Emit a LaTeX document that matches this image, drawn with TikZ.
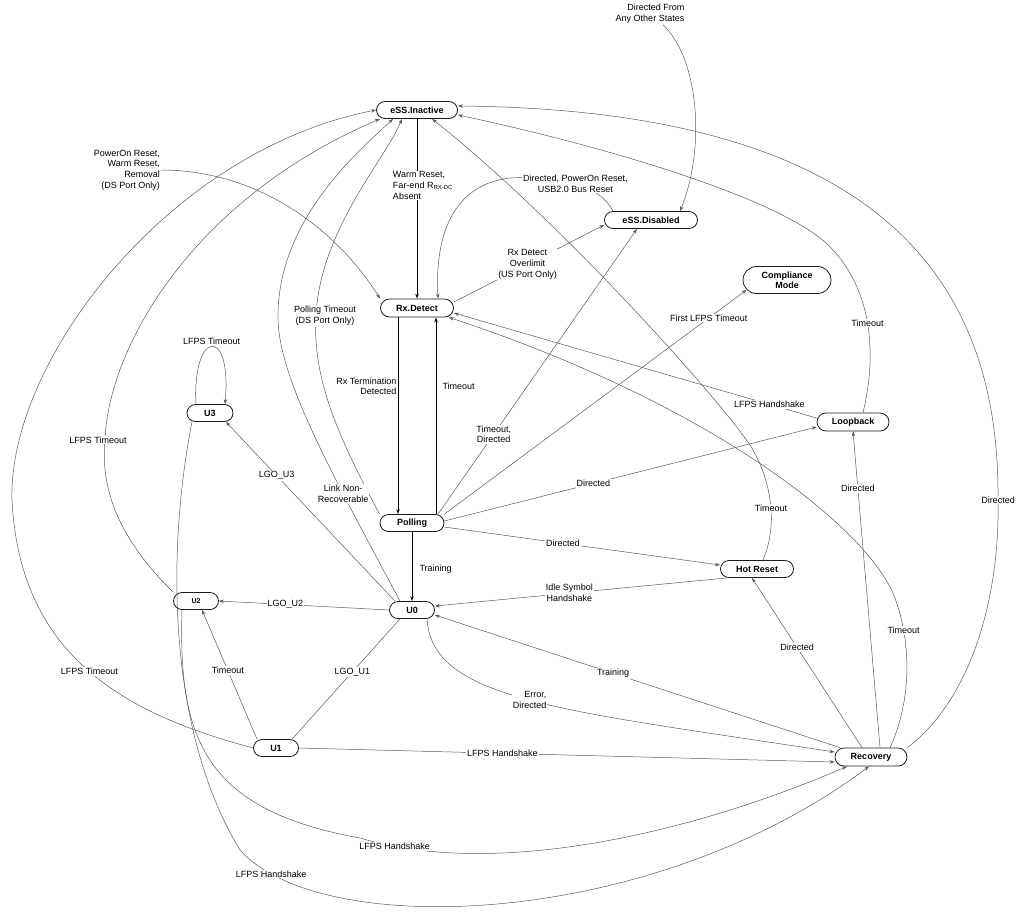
\documentclass[tikz,border=0pt]{standalone}
\usepackage{fontspec}
\setmainfont{Liberation Sans}
\usetikzlibrary{arrows.meta,calc,positioning}
\definecolor{lineGray}{HTML}{5A5A5A}
\definecolor{boxLine}{HTML}{1A1A1A}
\tikzset{
  stateBox/.style={draw=boxLine,line width=0.8pt,rounded corners=8.5pt,minimum height=17pt,
    inner sep=1pt,align=center,font=\fontsize{9}{10}\selectfont\bfseries},
  edgeLabel/.style={fill=white,inner sep=1pt,font=\fontsize{9}{10.7}\selectfont},
  trans/.style={draw=lineGray,line width=0.5pt,-{Stealth[length=5pt,width=3.5pt]}},
  mainTrans/.style={trans,draw=black,line width=1pt},
}

\begin{document}
\begin{tikzpicture}[x=1pt,y=-1pt]
  \useasboundingbox (0,0) rectangle (1020,914);

  % states
  \node[stateBox,minimum width=81pt] (inactive) at (417,110) {eSS.Inactive};
  \node[stateBox,minimum width=73pt,minimum height=18pt,rounded corners=9pt] (rxdetect) at (417,308) {Rx.Detect};
  \node[stateBox,minimum width=93pt] (disabled) at (651,220) {eSS.Disabled};
  \node[stateBox,minimum width=88pt,minimum height=27pt,rounded corners=13.5pt] (compliance) at (787,280) {Compliance\\Mode};
  \node[stateBox,minimum width=46pt] (u3) at (210,413) {U3};
  \node[stateBox,minimum width=45pt,font=\fontsize{7}{8}\selectfont\bfseries] (u2) at (196,601) {U2};
  \node[stateBox,minimum width=64pt] (polling) at (412,523) {Polling};
  \node[stateBox,minimum width=45pt] (u0) at (412,610) {U0};
  \node[stateBox,minimum width=45pt] (u1) at (276,748) {U1};
  \node[stateBox,minimum width=73pt] (hotreset) at (757,569) {Hot Reset};
  \node[stateBox,minimum width=72pt,minimum height=18pt,rounded corners=9pt] (loopback) at (853,422) {Loopback};
  \node[stateBox,minimum width=72pt,minimum height=18pt,rounded corners=9pt] (recovery) at (871,757) {Recovery};

  % free texts
  \node[edgeLabel,align=right] (anyOther) at (650,14) {Directed From\\Any Other States};
  \node[edgeLabel,align=right,anchor=east] (resetSrc) at (161,170) {PowerOn Reset,\\Warm Reset,\\Removal\\(DS Port Only)};

  % main column
  \draw[mainTrans] (inactive) -- (rxdetect)
    node[edgeLabel,pos=.37,xshift=6pt,align=left] (lWarm) {Warm Reset,\\Far-end R\textsubscript{RX-DC}\\Absent};
  \draw[mainTrans] ([xshift=-19pt]rxdetect.south) -- ([xshift=-14pt]polling.north)
    node[edgeLabel,pos=.35,left,align=right] (lRxTerm) {Rx Termination\\Detected};
  \draw[mainTrans] ([xshift=24pt]polling.north) -- ([xshift=19pt]rxdetect.south)
    node[edgeLabel,pos=.65,right=5pt] (lPollTo) {Timeout};
  \draw[mainTrans] (polling) -- (u0) node[edgeLabel,pos=.54,right=6pt] (lTrain) {Training};

  % from Polling
  \draw[trans] ([xshift=26pt]polling.north) -- ([xshift=-14pt]disabled.south)
    node[edgeLabel,pos=.28,align=center] (lPollDis) {Timeout,\\Directed};
  \draw[trans] (polling.north east) -- ([xshift=4pt,yshift=4pt]compliance.south west)
    node[edgeLabel,pos=.875] (lFirst) {First LFPS Timeout};
  \draw[trans] ([yshift=2pt]polling.east) -- ([yshift=-5pt]loopback.west)
    node[edgeLabel,pos=.4] (lPollLoop) {Directed};
  \draw[trans] ([yshift=-4pt]polling.east) -- ([yshift=4pt]hotreset.west)
    node[edgeLabel,pos=.43] (lPollHot) {Directed};
  \draw[trans] (polling.north west) .. controls (340,440) and (312,380) .. (316,316)
    node[edgeLabel,pos=1,xshift=9pt,align=center] (lPollTime) {Polling Timeout\\(DS Port Only)}
    .. controls (320,230) and (385,160) .. ([xshift=-15pt]inactive.south);

  % from U0
  \draw[trans] ([xshift=-17pt]u0.north) -- ([xshift=16pt]u3.south) node[edgeLabel,pos=.7] (lLgo3) {LGO\_U3};
  \draw[trans] (u0.west) -- (u2.east) node[edgeLabel,pos=.61] (lLgo2) {LGO\_U2};
  \draw[trans,-] ([xshift=-12pt]u0.south) -- ([xshift=16pt]u1.north) node[edgeLabel,pos=.44] (lLgo1) {LGO\_U1};
  \draw[trans] ([xshift=-12pt]u0.north) .. controls (330,470) and (280,380) .. (278,320)
    node[edgeLabel,pos=.3,align=center] (lLink) {Link Non-\\Recoverable}
    .. controls (276,220) and (360,150) .. ([xshift=-24pt]inactive.south);
  \draw[trans] ([xshift=15pt]u0.south) .. controls (432,700) and (560,710) .. ([yshift=5pt]recovery.west)
    node[edgeLabel,pos=.5,align=right] (lErr) {Error,\\Directed};

  % from Hot Reset
  \draw[trans] ([xshift=-30pt]hotreset.south) -- ([yshift=4pt]u0.east)
    node[edgeLabel,pos=.54,align=center] (lIdle) {Idle Symbol\\Handshake};
  \draw[trans] ([xshift=6pt]hotreset.north) .. controls (778,525) and (772,480) .. (750,445)
    node[edgeLabel,pos=.45] (lHotTo) {Timeout}
    .. controls (720,400) and (560,220) .. ([xshift=15pt]inactive.south);

  % from Loopback
  \draw[trans] ([yshift=4pt]loopback.west) -- ([yshift=-5pt]rxdetect.east)
    node[edgeLabel,pos=.13] (lLoopHs) {LFPS Handshake};
  \draw[trans] ([xshift=10pt]loopback.north) .. controls (878,350) and (870,290) .. (833,250)
    node[edgeLabel,pos=.5] (lLoopTo) {Timeout}
    .. controls (790,200) and (600,145) .. ([yshift=-5pt]inactive.east);

  % from Recovery
  \draw[trans] ([xshift=-31pt]recovery.north) -- ([yshift=-5pt]u0.east) node[edgeLabel,pos=.56] (lRecTrain) {Training};
  \draw[trans] ([xshift=-9pt]recovery.north) -- ([xshift=-5pt]hotreset.south) node[edgeLabel,pos=.59] (lRecHot) {Directed};
  \draw[trans] ([xshift=9pt]recovery.north) -- (loopback.south) node[edgeLabel,pos=.82] (lRecLoop) {Directed};
  \draw[trans] ([xshift=19pt]recovery.north) .. controls (912,700) and (912,640) .. (893,593)
    node[edgeLabel,pos=.75] (lRecTo) {Timeout}
    .. controls (860,520) and (700,400) .. ([xshift=-5pt]rxdetect.south east);
  \draw[trans] (recovery.north east) .. controls (970,700) and (1000,600) .. (998,500)
    node[edgeLabel,pos=1] (lRecDir) {Directed}
    .. controls (1000,280) and (880,110) .. ([yshift=4pt]inactive.east);

  % from U1
  \draw[trans] (u1.west) .. controls (130,715) and (20,660) .. (12,500)
    node[edgeLabel,pos=.5] (lU1To) {LFPS Timeout}
    .. controls (8,360) and (170,150) .. (inactive.west);
  \draw[trans] ([xshift=-19pt]u1.north) -- ([xshift=6pt]u2.south) node[edgeLabel,pos=.53] (lU1U2) {Timeout};
  \draw[trans] (u1.east) -- ([yshift=-5pt]recovery.west) node[edgeLabel,pos=.38] (lU1Rec) {LFPS Handshake};

  % from U2
  \draw[trans] (u2.north west) .. controls (120,540) and (100,490) .. (105,440)
    node[edgeLabel,pos=1,xshift=-7pt] (lU2To) {LFPS Timeout}
    .. controls (108,350) and (190,200) .. ([xshift=-37pt]inactive.south);
  \draw[trans] ([xshift=-14pt]u2.south) .. controls (178,740) and (205,810) .. (360,838)
    .. controls (500,880) and (700,830) .. ([xshift=-24pt]recovery.south)
    node[edgeLabel,pos=.08] (lU2Rec) {LFPS Handshake};

  % from U3
  \draw[trans] ([xshift=-14pt]u3.north) .. controls (192,330) and (232,325) .. ([xshift=15pt]u3.north)
    node[edgeLabel,pos=.5,above=1pt] (lU3Loop) {LFPS Timeout};
  \draw[trans] ([xshift=-18pt]u3.south) .. controls (165,560) and (170,735) .. (240,850)
    .. controls (320,940) and (650,930) .. ([xshift=-2pt]recovery.south)
    node[edgeLabel,pos=.1] (lU3Rec) {LFPS Handshake};

  % Rx.Detect and eSS.Disabled
  \draw[trans] (resetSrc.east) .. controls (250,170) and (330,220) .. (rxdetect.north west);
  \draw[trans] ([yshift=6pt]rxdetect.east) -- ([yshift=-5pt]disabled.west)
    node[edgeLabel,pos=.49,align=center] (lOver) {Rx Detect\\Overlimit\\(US Port Only)};
  \draw[trans] ([xshift=-38pt]disabled.north) .. controls (600,185) and (560,175) .. (510,178)
    node[edgeLabel,pos=.5,align=center] (lDisRx) {Directed, PowerOn Reset,\\USB2.0 Bus Reset}
    .. controls (450,185) and (435,240) .. ([xshift=21pt]rxdetect.north);
  \draw[trans] ([xshift=13pt]anyOther.south) .. controls (700,60) and (705,150) .. ([xshift=29pt]disabled.north);
\end{tikzpicture}
\end{document}
